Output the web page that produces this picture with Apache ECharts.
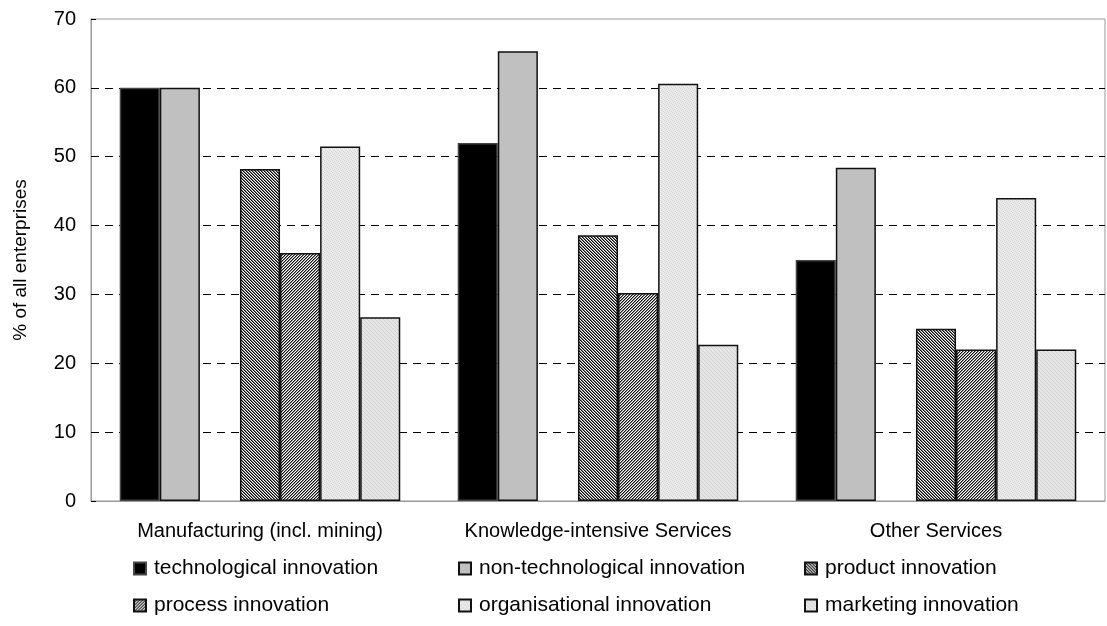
<!DOCTYPE html>
<html>
<head>
<meta charset="utf-8">
<script src="https://cdn.jsdelivr.net/npm/echarts@6/dist/echarts.min.js"></script>
<style>
html,body{margin:0;padding:0;background:#fff;}
#chart{width:1107px;height:626px;}
</style>
</head>
<body>
<div id="chart"></div>
<script>
const categories = ['Manufacturing (incl. mining)', 'Knowledge-intensive Services', 'Other Services'];
const seriesNames = ['technological innovation', 'non-technological innovation', 'product innovation', 'process innovation', 'organisational innovation', 'marketing innovation'];
const technological = [60.0, 52.0, 35.0];
const nonTechnological = [60.0, 65.3, 48.4];
const product = [48.2, 38.6, 25.0];
const process = [36.0, 30.2, 22.0];
const organisational = [51.5, 60.6, 44.0];
const marketing = [26.7, 22.7, 22.0];
const yTicks = [0, 10, 20, 30, 40, 50, 60, 70];

function makePattern(size, bg, cells) {
  const c = document.createElement('canvas');
  c.width = size; c.height = size;
  const ctx = c.getContext('2d');
  ctx.fillStyle = bg; ctx.fillRect(0, 0, size, size);
  cells.forEach(p => { ctx.fillStyle = p[2]; ctx.fillRect(p[0], p[1], 1, 1); });
  return { image: c, repeat: 'repeat' };
}
const prodPx = [], procPx = [], orgPx = [], mktPx = [];
for (let i = 0; i < 3; i++) {
  prodPx.push([i, i, '#000000']); prodPx.push([(i + 1) % 3, i, '#7a7a7a']);
  procPx.push([2 - i, i, '#111111']); procPx.push([(3 - i) % 3, i, '#8a8a8a']);
}
orgPx.push([0, 0, '#d4d4d4'], [2, 1, '#d4d4d4'], [1, 2, '#d4d4d4'], [3, 3, '#d4d4d4']);
mktPx.push([0, 0, '#d0d0d0'], [1, 1, '#d0d0d0'], [2, 2, '#d0d0d0'], [3, 3, '#d0d0d0']);
const productFill = makePattern(3, '#ffffff', prodPx);
const processFill = makePattern(3, '#ffffff', procPx);
const orgFill = makePattern(4, '#ebebeb', orgPx);
const mktFill = makePattern(4, '#e6e6e6', mktPx);

const font = 'Liberation Sans, Arial, sans-serif';
const border = { borderColor: '#111', borderWidth: 1.5 };

function bar(name, data, color, extra) {
  return {
    name: name, type: 'bar', data: data, barGap: '0%', barCategoryGap: '17%',
    itemStyle: Object.assign({ color: color }, border, extra || {}),
    emphasis: { disabled: true }, animation: false
  };
}

const legendPos = [
  [128, 553], [453, 553], [799, 553],
  [128, 590], [453, 590], [799, 590]
];
const legends = seriesNames.map((n, i) => ({
  data: [n], left: legendPos[i][0], top: legendPos[i][1],
  itemWidth: 12, itemHeight: 12, itemGap: 5, icon: 'rect', selectedMode: false,
  textStyle: { fontFamily: font, fontSize: 21, color: '#000', padding: [0, 0, 0, 3] }
}));

const option = {
  backgroundColor: '#fff',
  animation: false,
  grid: { left: 91, right: 2, top: 19, bottom: 125, show: true, borderColor: '#999', borderWidth: 1 },
  legend: legends,
  xAxis: {
    type: 'category', data: categories,
    axisLine: { show: true, lineStyle: { color: '#999', width: 1 } },
    axisTick: { show: false },
    axisLabel: { fontFamily: font, fontSize: 20, color: '#000', margin: 20, interval: 0 }
  },
  yAxis: {
    type: 'value', min: yTicks[0], max: yTicks[yTicks.length - 1], interval: 10,
    name: '% of all enterprises', nameLocation: 'middle', nameGap: 61,
    nameTextStyle: { fontFamily: font, fontSize: 19, color: '#000' },
    axisLine: { show: true, lineStyle: { color: '#999', width: 1 } },
    axisTick: { show: true, inside: true, length: 5, lineStyle: { color: '#000' } },
    axisLabel: { fontFamily: font, fontSize: 20, color: '#000', margin: 15 },
    splitLine: { show: true, lineStyle: { type: [8, 6], width: 1,
      color: ['rgba(0,0,0,0)', '#000', '#000', '#000', '#000', '#000', '#000', 'rgba(0,0,0,0)'] } }
  },
  series: [
    bar(seriesNames[0], technological, '#000000', { borderColor: '#444' }),
    bar(seriesNames[1], nonTechnological, '#c0c0c0'),
    { name: '', type: 'bar', data: [null, null, null], barGap: '0%', barCategoryGap: '17%' },
    bar(seriesNames[2], product, productFill),
    bar(seriesNames[3], process, processFill),
    bar(seriesNames[4], organisational, orgFill),
    bar(seriesNames[5], marketing, mktFill)
  ]
};
const chart = echarts.init(document.getElementById('chart'), null, { renderer: 'canvas' });
chart.setOption(option);
</script>
</body>
</html>
